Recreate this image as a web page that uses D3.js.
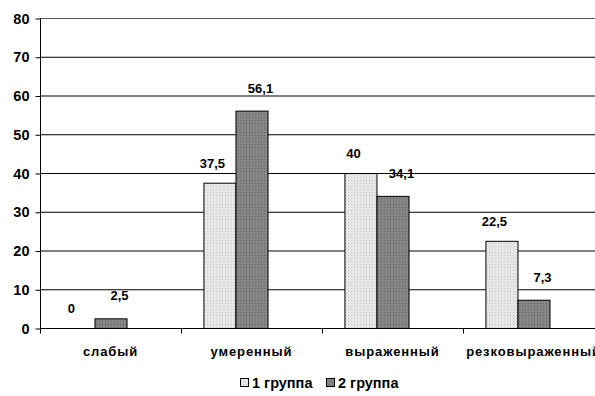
<!DOCTYPE html>
<html>
<head>
<meta charset="utf-8">
<script src="https://cdn.jsdelivr.net/npm/d3@7"></script>
<style>
  body { margin: 0; background: #fff; }
  text { font-family: Arial, "Liberation Sans", sans-serif; font-weight: bold; }
</style>
</head>
<body>
<div id="chart"></div>
<script>
const categories = ["слабый", "умеренный", "выраженный", "резковыраженный"];
const seriesNames = ["1 группа", "2 группа"];
const group1 = [0, 37.5, 40, 22.5];
const group2 = [2.5, 56.1, 34.1, 7.3];
const yTicks = [0, 10, 20, 30, 40, 50, 60, 70, 80];
const labels1 = ["0", "37,5", "40", "22,5"];
const labels2 = ["2,5", "56,1", "34,1", "7,3"];

const W = 595, H = 396;
const margin = {top: 18, left: 40, bottom: 68};
const plotBottom = H - margin.bottom;

const svg = d3.select("#chart").append("svg")
    .attr("width", W).attr("height", H);

const defs = svg.append("defs");
// light dotted fill
const p1 = defs.append("pattern").attr("id", "pat1")
    .attr("patternUnits", "userSpaceOnUse").attr("width", 3).attr("height", 3);
p1.append("rect").attr("width", 3).attr("height", 3).attr("fill", "#e6e6e6");
p1.append("rect").attr("width", 1).attr("height", 1).attr("fill", "#cacaca");
// dark dotted fill
const p2 = defs.append("pattern").attr("id", "pat2")
    .attr("patternUnits", "userSpaceOnUse").attr("width", 3).attr("height", 3);
p2.append("rect").attr("width", 3).attr("height", 3).attr("fill", "#858585");
p2.append("rect").attr("width", 1).attr("height", 1).attr("fill", "#666");

// plot runs past the right edge (chart is cropped)
const x0 = d3.scaleBand().domain(categories).range([margin.left, 604]);
// three slots per group, third one empty
const x1 = d3.scaleBand().domain([0, 1, 2]).range([0, x0.bandwidth()]).paddingOuter(0.7);
const y = d3.scaleLinear().domain([0, 80]).range([plotBottom, margin.top]);

// grid
svg.append("g").selectAll("line").data(yTicks.filter(d => d > 0)).enter().append("line")
    .attr("x1", margin.left).attr("x2", W)
    .attr("y1", d => y(d) + 0.5).attr("y2", d => y(d) + 0.5)
    .attr("stroke", d => d === 80 ? "#555" : "#000").attr("stroke-width", 1);

// y axis
const yAxis = svg.append("g")
    .attr("transform", `translate(${margin.left + 0.5},0.5)`)
    .call(d3.axisLeft(y).tickValues(yTicks).tickSize(5).tickPadding(6));
yAxis.select(".domain").attr("stroke", "#000").attr("d", `M0,${y(80)}V${y(0)}`);
yAxis.selectAll("text").attr("font-size", 14.5).attr("fill", "#000");

// bars
const fills = ["url(#pat1)", "url(#pat2)"];
const series = [group1, group2];
series.forEach((vals, s) => {
    svg.append("g").selectAll("rect").data(vals).enter().append("rect")
        .attr("x", (d, i) => x0(categories[i]) + x1(s) + 0.5)
        .attr("y", d => y(d) + 0.5)
        .attr("width", x1.bandwidth())
        .attr("height", d => y(0) - y(d))
        .attr("fill", fills[s])
        .attr("stroke", "#000")
        .attr("stroke-width", 1)
        .style("display", d => d === 0 ? "none" : null);
});

// x axis
const xAxis = svg.append("g").attr("transform", `translate(0,${plotBottom + 0.5})`);
xAxis.append("line").attr("x1", margin.left).attr("x2", W).attr("stroke", "#000");
xAxis.selectAll(".tk").data(categories).enter().append("line")
    .attr("x1", d => x0(d) + 0.5).attr("x2", d => x0(d) + 0.5)
    .attr("y1", 0).attr("y2", 5).attr("stroke", "#000");
xAxis.selectAll("text").data(categories).enter().append("text")
    .attr("x", d => x0(d) + x0.bandwidth() / 2)
    .attr("y", 27)
    .attr("text-anchor", "middle")
    .attr("font-size", 13)
    .attr("letter-spacing", 0.9)
    .text(d => d);

// data labels
const labelSets = [labels1, labels2];
const dx = [-7, 9], dy = [-15, -18];
series.forEach((vals, s) => {
    svg.append("g").selectAll("text").data(vals).enter().append("text")
        .attr("x", (d, i) => x0(categories[i]) + x1(s) + x1.bandwidth() / 2 + dx[s])
        .attr("y", d => y(d) + dy[s])
        .attr("text-anchor", "middle")
        .attr("font-size", 13)
        .text((d, i) => labelSets[s][i]);
});

// legend
const legend = svg.append("g").attr("transform", "translate(240,378)");
const lw = [0, 86];
seriesNames.forEach((name, s) => {
    const g = legend.append("g").attr("transform", `translate(${lw[s]},0)`);
    g.append("rect").attr("x", 0.5).attr("y", 0.5).attr("width", 8).attr("height", 8)
        .attr("fill", fills[s]).attr("stroke", "#000");
    g.append("text").attr("x", 12).attr("y", 10).attr("font-size", 14.5).text(name);
});
</script>
</body>
</html>
